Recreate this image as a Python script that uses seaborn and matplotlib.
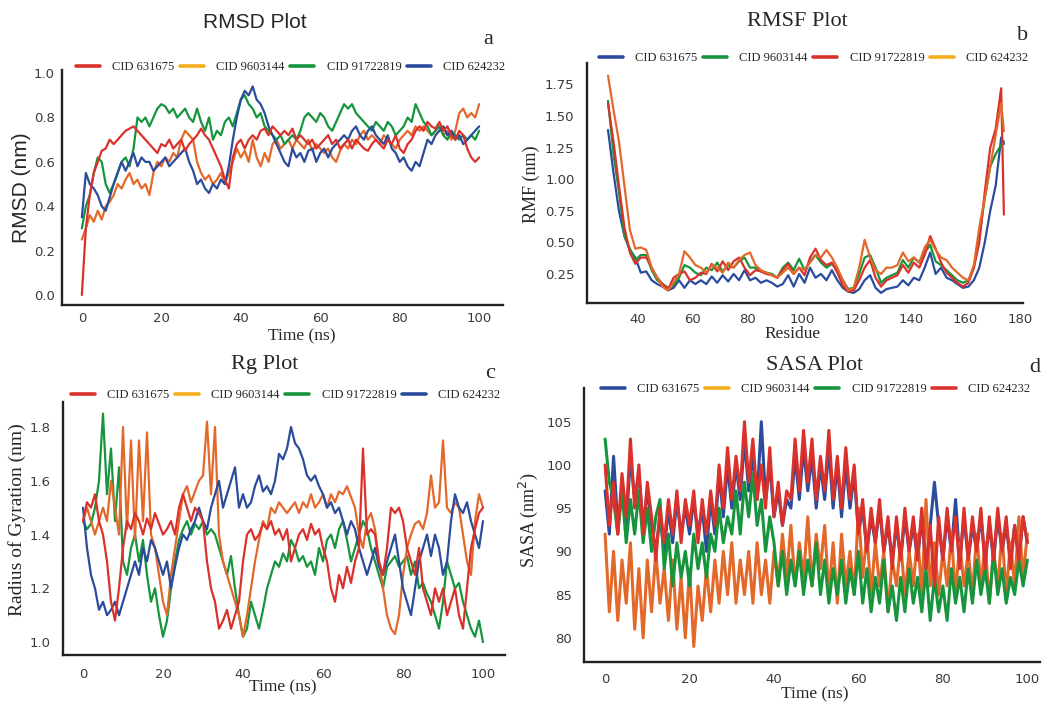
import numpy as np
import pandas as pd
import seaborn as sns
import matplotlib.pyplot as plt
from matplotlib.lines import Line2D

# ---- data ----
time_ns = list(range(0, 101))
cids = ['CID 631675', 'CID 9603144', 'CID 91722819', 'CID 624232']

rmsd_631675 = [0.0, 0.3, 0.45, 0.55, 0.6, 0.65, 0.66, 0.7, 0.68, 0.7, 0.72, 0.74, 0.75, 0.76, 0.74, 0.72, 0.7, 0.68, 0.66, 0.64,
               0.68, 0.67, 0.7, 0.66, 0.68, 0.7, 0.65, 0.68, 0.7, 0.72, 0.75, 0.72, 0.7, 0.66, 0.62, 0.58, 0.52, 0.48, 0.62, 0.68,
               0.7, 0.66, 0.7, 0.72, 0.7, 0.74, 0.75, 0.72, 0.76, 0.74, 0.72, 0.74, 0.72, 0.75, 0.7, 0.72, 0.7, 0.68, 0.7, 0.66,
               0.68, 0.7, 0.72, 0.68, 0.7, 0.66, 0.68, 0.7, 0.66, 0.7, 0.68, 0.66, 0.65, 0.68, 0.7, 0.68, 0.66, 0.7, 0.68, 0.72,
               0.66, 0.64, 0.68, 0.7, 0.74, 0.76, 0.74, 0.78, 0.76, 0.75, 0.78, 0.74, 0.76, 0.72, 0.7, 0.74, 0.72, 0.66, 0.62, 0.6, 0.62]
rmsd_9603144 = [0.25, 0.3, 0.36, 0.33, 0.38, 0.34, 0.4, 0.42, 0.45, 0.5, 0.48, 0.52, 0.55, 0.5, 0.52, 0.48, 0.5, 0.45, 0.55, 0.6,
                0.58, 0.62, 0.6, 0.64, 0.62, 0.7, 0.74, 0.72, 0.7, 0.6, 0.55, 0.52, 0.54, 0.5, 0.52, 0.55, 0.5, 0.55, 0.6, 0.66,
                0.62, 0.65, 0.6, 0.7, 0.62, 0.58, 0.64, 0.6, 0.68, 0.7, 0.66, 0.68, 0.7, 0.66, 0.7, 0.68, 0.66, 0.7, 0.65, 0.68,
                0.66, 0.64, 0.66, 0.62, 0.6, 0.65, 0.68, 0.66, 0.7, 0.68, 0.72, 0.74, 0.7, 0.72, 0.7, 0.68, 0.72, 0.7, 0.68, 0.66,
                0.7, 0.72, 0.74, 0.72, 0.76, 0.74, 0.76, 0.74, 0.72, 0.74, 0.76, 0.72, 0.74, 0.7, 0.74, 0.82, 0.84, 0.8, 0.82, 0.8, 0.86]
rmsd_91722819 = [0.3, 0.4, 0.45, 0.55, 0.62, 0.6, 0.5, 0.46, 0.5, 0.55, 0.6, 0.62, 0.58, 0.66, 0.8, 0.78, 0.8, 0.76, 0.8, 0.84,
                 0.86, 0.85, 0.82, 0.84, 0.8, 0.82, 0.84, 0.8, 0.78, 0.84, 0.78, 0.74, 0.8, 0.7, 0.74, 0.72, 0.78, 0.8, 0.76, 0.82,
                 0.88, 0.9, 0.86, 0.84, 0.8, 0.82, 0.76, 0.74, 0.72, 0.7, 0.72, 0.68, 0.7, 0.72, 0.7, 0.74, 0.8, 0.82, 0.8, 0.78,
                 0.82, 0.8, 0.76, 0.74, 0.78, 0.82, 0.86, 0.84, 0.86, 0.82, 0.8, 0.78, 0.76, 0.74, 0.78, 0.76, 0.74, 0.78, 0.76, 0.72,
                 0.74, 0.76, 0.8, 0.78, 0.86, 0.82, 0.78, 0.76, 0.72, 0.74, 0.76, 0.72, 0.7, 0.74, 0.72, 0.7, 0.72, 0.7, 0.72, 0.7, 0.74]
rmsd_624232 = [0.35, 0.55, 0.5, 0.48, 0.45, 0.4, 0.38, 0.44, 0.5, 0.55, 0.6, 0.56, 0.6, 0.64, 0.58, 0.62, 0.6, 0.6, 0.56, 0.58,
               0.6, 0.62, 0.58, 0.6, 0.62, 0.64, 0.66, 0.6, 0.56, 0.5, 0.52, 0.48, 0.46, 0.5, 0.48, 0.52, 0.5, 0.58, 0.7, 0.8,
               0.88, 0.92, 0.9, 0.94, 0.88, 0.86, 0.82, 0.76, 0.72, 0.68, 0.64, 0.6, 0.58, 0.66, 0.62, 0.64, 0.6, 0.65, 0.66, 0.6,
               0.64, 0.66, 0.62, 0.66, 0.68, 0.7, 0.72, 0.7, 0.74, 0.76, 0.72, 0.7, 0.74, 0.76, 0.72, 0.7, 0.68, 0.72, 0.66, 0.64,
               0.6, 0.62, 0.58, 0.56, 0.6, 0.58, 0.64, 0.7, 0.68, 0.72, 0.74, 0.76, 0.72, 0.74, 0.7, 0.72, 0.68, 0.7, 0.72, 0.74, 0.76]

residue = list(range(29, 174, 2)) + [174]
rmsf_631675 = [1.39, 1.05, 0.75, 0.55, 0.44, 0.38, 0.26, 0.27, 0.2, 0.17, 0.15, 0.12, 0.14, 0.2, 0.14, 0.2, 0.17, 0.2, 0.17, 0.23,
               0.18, 0.24, 0.19, 0.25, 0.2, 0.28, 0.2, 0.22, 0.18, 0.2, 0.18, 0.15, 0.17, 0.24, 0.15, 0.25, 0.18, 0.3, 0.22, 0.25,
               0.2, 0.28, 0.2, 0.14, 0.11, 0.1, 0.13, 0.2, 0.24, 0.14, 0.1, 0.13, 0.14, 0.15, 0.2, 0.16, 0.22, 0.2, 0.3, 0.42,
               0.25, 0.3, 0.22, 0.2, 0.17, 0.14, 0.15, 0.2, 0.3, 0.5, 0.75, 0.95, 1.33, 1.28]
rmsf_9603144 = [1.62, 1.2, 0.9, 0.55, 0.45, 0.36, 0.4, 0.4, 0.28, 0.2, 0.17, 0.14, 0.16, 0.22, 0.32, 0.3, 0.26, 0.24, 0.3, 0.28,
                0.34, 0.27, 0.32, 0.3, 0.35, 0.38, 0.3, 0.3, 0.27, 0.26, 0.25, 0.22, 0.3, 0.34, 0.28, 0.37, 0.28, 0.35, 0.4, 0.34,
                0.3, 0.33, 0.28, 0.2, 0.13, 0.14, 0.25, 0.38, 0.4, 0.3, 0.18, 0.22, 0.24, 0.26, 0.36, 0.3, 0.38, 0.34, 0.42, 0.48,
                0.35, 0.32, 0.28, 0.24, 0.2, 0.18, 0.2, 0.3, 0.55, 0.85, 1.1, 1.2, 1.27, 1.3]
rmsf_91722819 = [1.6, 1.3, 0.95, 0.62, 0.42, 0.33, 0.38, 0.38, 0.3, 0.22, 0.17, 0.13, 0.22, 0.25, 0.27, 0.2, 0.22, 0.26, 0.25, 0.33,
                 0.27, 0.35, 0.28, 0.35, 0.38, 0.3, 0.24, 0.28, 0.27, 0.25, 0.24, 0.22, 0.28, 0.33, 0.25, 0.3, 0.24, 0.38, 0.45, 0.36,
                 0.32, 0.34, 0.26, 0.16, 0.11, 0.12, 0.2, 0.3, 0.36, 0.22, 0.15, 0.2, 0.22, 0.24, 0.32, 0.26, 0.34, 0.3, 0.4, 0.55,
                 0.45, 0.34, 0.26, 0.22, 0.18, 0.15, 0.18, 0.3, 0.5, 0.9, 1.25, 1.4, 1.72, 0.72]
rmsf_624232 = [1.82, 1.55, 1.3, 0.95, 0.6, 0.45, 0.46, 0.44, 0.3, 0.22, 0.15, 0.12, 0.18, 0.25, 0.43, 0.38, 0.32, 0.3, 0.26, 0.32,
               0.3, 0.26, 0.34, 0.3, 0.36, 0.4, 0.42, 0.32, 0.28, 0.26, 0.24, 0.22, 0.26, 0.3, 0.25, 0.3, 0.28, 0.34, 0.4, 0.38,
               0.44, 0.38, 0.3, 0.2, 0.12, 0.14, 0.3, 0.52, 0.38, 0.28, 0.25, 0.3, 0.3, 0.32, 0.42, 0.35, 0.38, 0.34, 0.46, 0.52,
               0.44, 0.38, 0.36, 0.3, 0.26, 0.22, 0.2, 0.32, 0.62, 0.85, 1.1, 1.35, 1.6, 1.38]

rg_631675 = [1.45, 1.52, 1.5, 1.55, 1.45, 1.4, 1.3, 1.15, 1.08, 1.2, 1.35, 1.45, 1.42, 1.48, 1.45, 1.4, 1.46, 1.42, 1.48, 1.44,
             1.4, 1.42, 1.45, 1.4, 1.5, 1.55, 1.5, 1.45, 1.5, 1.48, 1.45, 1.3, 1.2, 1.15, 1.05, 1.08, 1.12, 1.05, 1.1, 1.15,
             1.3, 1.4, 1.42, 1.38, 1.4, 1.44, 1.42, 1.45, 1.4, 1.42, 1.38, 1.42, 1.3, 1.35, 1.4, 1.42, 1.38, 1.44, 1.4, 1.42,
             1.35, 1.3, 1.2, 1.15, 1.25, 1.2, 1.28, 1.22, 1.3, 1.35, 1.72, 1.4, 1.42, 1.4, 1.3, 1.25, 1.35, 1.5, 1.48, 1.5,
             1.45, 1.35, 1.3, 1.25, 1.35, 1.2, 1.15, 1.1, 1.2, 1.15, 1.2, 1.1, 1.15, 1.2, 1.1, 1.05, 1.2, 1.35, 1.42, 1.48, 1.5]
rg_9603144 = [1.45, 1.5, 1.45, 1.4, 1.45, 1.5, 1.45, 1.6, 1.5, 1.4, 1.8, 1.42, 1.75, 1.38, 1.75, 1.45, 1.78, 1.4, 1.35, 1.25,
              1.15, 1.1, 1.25, 1.35, 1.45, 1.55, 1.58, 1.52, 1.56, 1.6, 1.62, 1.82, 1.55, 1.8, 1.4, 1.3, 1.25, 1.2, 1.15, 1.1,
              1.02, 1.1, 1.2, 1.3, 1.38, 1.45, 1.42, 1.5, 1.48, 1.52, 1.5, 1.48, 1.5, 1.52, 1.48, 1.52, 1.5, 1.55, 1.5, 1.52,
              1.55, 1.5, 1.55, 1.52, 1.56, 1.55, 1.58, 1.54, 1.5, 1.4, 1.35, 1.45, 1.48, 1.42, 1.3, 1.2, 1.1, 1.05, 1.03, 1.1,
              1.25, 1.35, 1.4, 1.44, 1.45, 1.42, 1.48, 1.62, 1.5, 1.52, 1.75, 1.5, 1.48, 1.52, 1.5, 1.4, 1.3, 1.25, 1.45, 1.55, 1.5]
rg_91722819 = [1.45, 1.42, 1.44, 1.5, 1.6, 1.85, 1.55, 1.72, 1.45, 1.65, 1.3, 1.25, 1.35, 1.4, 1.3, 1.38, 1.25, 1.15, 1.2, 1.1,
               1.02, 1.08, 1.2, 1.3, 1.38, 1.42, 1.45, 1.4, 1.44, 1.42, 1.45, 1.4, 1.42, 1.4, 1.35, 1.3, 1.25, 1.32, 1.2, 1.1,
               1.02, 1.05, 1.15, 1.1, 1.05, 1.12, 1.2, 1.25, 1.3, 1.28, 1.33, 1.3, 1.38, 1.35, 1.3, 1.32, 1.28, 1.3, 1.25, 1.35,
               1.3, 1.38, 1.4, 1.35, 1.42, 1.45, 1.38, 1.3, 1.35, 1.4, 1.45, 1.42, 1.35, 1.3, 1.25, 1.2, 1.28, 1.3, 1.32, 1.28,
               1.3, 1.32, 1.25, 1.3, 1.2, 1.22, 1.18, 1.15, 1.1, 1.05, 1.15, 1.3, 1.25, 1.2, 1.22, 1.15, 1.1, 1.05, 1.02, 1.08, 1.0]
rg_624232 = [1.5, 1.35, 1.25, 1.2, 1.12, 1.15, 1.1, 1.12, 1.15, 1.1, 1.15, 1.2, 1.25, 1.3, 1.25, 1.35, 1.3, 1.38, 1.35, 1.3,
             1.25, 1.3, 1.2, 1.28, 1.35, 1.4, 1.38, 1.42, 1.45, 1.5, 1.45, 1.42, 1.5, 1.55, 1.6, 1.5, 1.55, 1.6, 1.65, 1.5,
             1.55, 1.5, 1.52, 1.58, 1.62, 1.56, 1.58, 1.55, 1.6, 1.7, 1.68, 1.72, 1.8, 1.74, 1.72, 1.68, 1.62, 1.6, 1.62, 1.58,
             1.55, 1.5, 1.52, 1.48, 1.5, 1.45, 1.4, 1.45, 1.42, 1.35, 1.3, 1.25, 1.3, 1.35, 1.28, 1.25, 1.3, 1.35, 1.4, 1.3,
             1.2, 1.15, 1.1, 1.2, 1.3, 1.35, 1.4, 1.32, 1.4, 1.35, 1.25, 1.3, 1.45, 1.55, 1.5, 1.48, 1.52, 1.45, 1.4, 1.35, 1.45]

sasa_631675 = [97, 92, 101, 93, 97, 93, 101, 96, 99, 93, 97, 93, 90, 94, 90, 95, 91, 96, 92, 95,
               92, 96, 92, 95, 90, 96, 92, 99, 94, 100, 95, 100, 96, 103, 97, 101, 96, 105, 96, 100,
               94, 97, 93, 96, 95, 101, 96, 102, 97, 101, 95, 100, 96, 102, 95, 100, 94, 100, 95, 99,
               92, 95, 90, 94, 91, 95, 90, 93, 89, 93, 89, 94, 90, 93, 89, 94, 88, 93, 98, 93,
               89, 94, 90, 96, 89, 94, 89, 93, 90, 94, 89, 93, 89, 94, 90, 93, 89, 93, 89, 94, 91]
sasa_9603144 = [92, 83, 90, 82, 89, 84, 91, 81, 88, 80, 89, 83, 90, 84, 88, 82, 89, 81, 87, 80,
                88, 79, 86, 82, 88, 83, 89, 84, 90, 85, 91, 84, 89, 85, 90, 84, 91, 85, 89, 84,
                90, 86, 92, 87, 93, 86, 91, 87, 94, 86, 92, 88, 93, 85, 91, 84, 92, 86, 90, 85,
                95, 87, 92, 85, 91, 86, 90, 83, 89, 86, 91, 85, 90, 86, 92, 85, 96, 86, 91, 85,
                90, 86, 92, 85, 91, 86, 90, 85, 92, 86, 91, 84, 90, 86, 92, 85, 91, 86, 94, 87, 92]
sasa_91722819 = [103, 98, 96, 92, 97, 91, 96, 92, 97, 91, 95, 90, 94, 96, 88, 92, 86, 91, 87, 90,
                 86, 92, 88, 91, 87, 92, 90, 95, 91, 94, 92, 97, 92, 98, 94, 99, 93, 96, 90, 94,
                 91, 86, 90, 85, 89, 86, 90, 85, 89, 86, 91, 85, 89, 84, 88, 85, 89, 84, 88, 85,
                 90, 84, 88, 83, 87, 84, 89, 83, 86, 82, 87, 83, 88, 84, 87, 83, 88, 82, 87, 83,
                 86, 82, 88, 84, 87, 83, 88, 84, 89, 85, 88, 84, 90, 85, 88, 84, 87, 85, 89, 86, 89]
sasa_624232 = [100, 93, 98, 92, 99, 94, 103, 95, 100, 92, 98, 94, 89, 95, 91, 96, 92, 97, 91, 96,
               93, 97, 91, 96, 92, 97, 93, 100, 95, 102, 96, 101, 97, 105, 98, 103, 96, 100, 95, 102,
               94, 98, 93, 97, 96, 103, 97, 104, 98, 103, 96, 101, 97, 104, 96, 101, 95, 102, 96, 100,
               92, 96, 90, 95, 91, 96, 90, 94, 88, 94, 89, 95, 90, 94, 89, 95, 88, 93, 86, 94,
               89, 95, 90, 94, 88, 95, 89, 94, 90, 95, 88, 94, 89, 95, 90, 94, 88, 93, 89, 94, 91]

# ---- styling ----
RED, ORANGE, YELLOW, GREEN, BLUE = '#d9322c', '#e3692b', '#f6ad1e', '#16953d', '#2b4c9c'
SERIF = 'Liberation Serif'
SANS = 'Liberation Sans'
W, H = 1044, 702

sns.set_style('white')
plt.rcParams['font.family'] = ['DejaVu Sans']

fig = plt.figure(figsize=(W / 100, H / 100), dpi=100)


def px(x, y):
    return x / W, 1 - y / H


def long_frame(x, series, xname):
    rows = []
    for name, vals in series.items():
        rows.append(pd.DataFrame({xname: x, 'value': vals, 'cid': name}))
    return pd.concat(rows, ignore_index=True)


def panel(box, x, series, xname, line_colors, legend_colors, draw_order,
          xlim, ylim, xticks, yticks, ytick_fmt, ticklen, legend_xy, lw=1.6, xpad=5):
    l, t, r, b = box
    ax = fig.add_axes([l / W, 1 - b / H, (r - l) / W, (b - t) / H])
    df = long_frame(x, series, xname)
    sns.lineplot(data=df, x=xname, y='value', hue='cid', hue_order=draw_order,
                 palette=line_colors, estimator=None, sort=False, lw=lw,
                 legend=False, ax=ax)
    ax.set_xlim(*xlim)
    ax.set_ylim(*ylim)
    ax.set_xticks(xticks)
    ax.set_yticks(yticks)
    ax.set_yticklabels([ytick_fmt.format(v) for v in yticks])
    ax.tick_params(length=ticklen, width=1.2, color='#333333', labelsize=9.5,
                   labelcolor='#3a3a3a', pad=5)
    ax.tick_params(axis='x', pad=xpad)
    ax.set_xlabel('')
    ax.set_ylabel('')
    for s in ['top', 'right']:
        ax.spines[s].set_visible(False)
    for s in ['left', 'bottom']:
        ax.spines[s].set_color('#222222')
        ax.spines[s].set_linewidth(1.7)
    handles = [Line2D([], [], color=legend_colors[c], lw=2.6) for c in cids]
    ax.legend(handles, cids, ncol=4, loc='center left', bbox_to_anchor=px(*legend_xy),
              bbox_transform=fig.transFigure, frameon=False, handlelength=1.9,
              columnspacing=0.45, handletextpad=1.0, borderaxespad=0, borderpad=0,
              prop={'family': SERIF, 'size': 9})
    return ax


# a: RMSD
panel((62, 70, 503, 305), time_ns,
      dict(zip(cids, [rmsd_631675, rmsd_9603144, rmsd_91722819, rmsd_624232])), 'time',
      dict(zip(cids, [RED, ORANGE, GREEN, BLUE])), dict(zip(cids, [RED, YELLOW, GREEN, BLUE])),
      ['CID 9603144', 'CID 91722819', 'CID 624232', 'CID 631675'],
      (-5, 106), (-0.045, 1.014), [0, 20, 40, 60, 80, 100], [0.0, 0.2, 0.4, 0.6, 0.8, 1.0], '{:.1f}', 0,
      (76, 67))

# b: RMSF
panel((587, 63, 1023, 303), residue,
      dict(zip(cids, [rmsf_631675, rmsf_9603144, rmsf_91722819, rmsf_624232])), 'residue',
      dict(zip(cids, [BLUE, GREEN, RED, ORANGE])), dict(zip(cids, [BLUE, GREEN, RED, YELLOW])),
      ['CID 631675', 'CID 9603144', 'CID 91722819', 'CID 624232'],
      (21.3, 181), (0.02, 1.92), [40, 60, 80, 100, 120, 140, 160, 180],
      [0.25, 0.5, 0.75, 1.0, 1.25, 1.5, 1.75], '{:.2f}', 4, (599, 58), xpad=3)

# c: Rg
panel((63, 402, 505, 655), time_ns,
      dict(zip(cids, [rg_631675, rg_9603144, rg_91722819, rg_624232])), 'time',
      dict(zip(cids, [RED, ORANGE, GREEN, BLUE])), dict(zip(cids, [RED, YELLOW, GREEN, BLUE])),
      ['CID 91722819', 'CID 9603144', 'CID 624232', 'CID 631675'],
      (-5, 105.5), (0.952, 1.893), [0, 20, 40, 60, 80, 100], [1.0, 1.2, 1.4, 1.6, 1.8], '{:.1f}', 4,
      (71, 395))

# d: SASA
panel((584, 388, 1040, 662), time_ns,
      dict(zip(cids, [sasa_631675, sasa_9603144, sasa_91722819, sasa_624232])), 'time',
      dict(zip(cids, [BLUE, ORANGE, GREEN, RED])), dict(zip(cids, [BLUE, YELLOW, GREEN, RED])),
      ['CID 631675', 'CID 9603144', 'CID 91722819', 'CID 624232'],
      (-5, 103), (77.2, 108.9), [0, 20, 40, 60, 80, 100], [80, 85, 90, 95, 100, 105], '{:d}', 4,
      (601, 389), lw=2.2, xpad=4)

# titles, axis labels and panel letters at their places in the figure
titles = [('RMSD Plot', 255, 23, SANS, 15), ('RMSF Plot', 797, 22, SERIF, 16),
          ('Rg Plot', 265, 365, SERIF, 16), ('SASA Plot', 815, 365, SERIF, 16)]
for text, x, y, fam, size in titles:
    fig.text(*px(x, y), text, family=fam, fontsize=size, ha='center', va='center')

xlabels = [('Time (ns)', 302, 336), ('Residue', 793, 334), ('Time (ns)', 283, 687), ('Time (ns)', 815, 694)]
for text, x, y in xlabels:
    fig.text(*px(x, y), text, family=SERIF, fontsize=12.5, ha='center', va='center')

fig.text(*px(22, 188), 'RMSD (nm)', family=SANS, fontsize=15, rotation=90, ha='center', va='center')
fig.text(*px(531, 184), 'RMF (nm)', family=SERIF, fontsize=13, rotation=90, ha='center', va='center')
fig.text(*px(17, 520), 'Radius of Gyration (nm)', family=SERIF, fontsize=14, rotation=90, ha='center', va='center')
fig.text(*px(528, 520), 'SASA (nm$^2$)', family=SERIF, fontsize=13, rotation=90, ha='center', va='center')

for (x, y), letter in zip([(488, 40), (1023, 35), (490, 373), (1035, 368)], 'abcd'):
    fig.text(*px(x, y), letter, family=SERIF, fontsize=16, ha='center', va='center')

fig.savefig('out.png', dpi=100)
